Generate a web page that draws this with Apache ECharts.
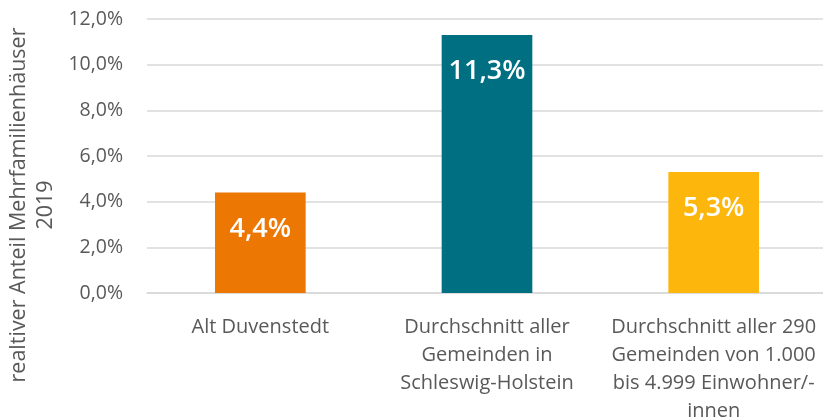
<!DOCTYPE html>
<html>
<head>
<meta charset="utf-8">
<style>html,body{margin:0;padding:0;background:#fff;}</style>
</head>
<body>
<div id="main" style="width:823px;height:418px;"></div>
<script src="https://cdn.jsdelivr.net/npm/echarts@6/dist/echarts.min.js"></script>
<script type="text/javascript">
    // Daten
    var categories = ['Alt Duvenstedt', 'Durchschnitt aller\nGemeinden in\nSchleswig-Holstein', 'Durchschnitt aller 290\nGemeinden von 1.000\nbis 4.999 Einwohner/-\ninnen'];
    var values = [4.4, 11.3, 5.3];
    var colors = ['#ED7703', '#006F82', '#FDB70C'];
    var yTicks = { min: 0, max: 12, interval: 2 };
    var yTitle = 'realtiver Anteil Mehrfamilienhäuser\n2019';

    var font = '"Open Sans", "Noto Sans", sans-serif';
    var pct = function (v) { return v.toFixed(1).replace('.', ',') + '%'; };

    var myChart = echarts.init(document.getElementById('main'));

    var option = {
        animation: false,
        grid: { left: 147, right: -4, top: 19, bottom: 125, outerBoundsMode: 'none' },
        // Achsentitel, auf die ganze Höhe zentriert wie im Original
        graphic: [{
            type: 'text',
            x: 32, y: 205,
            rotation: Math.PI / 2,
            style: {
                text: yTitle,
                fill: '#595959',
                font: '21.5px ' + font,
                lineHeight: 27,
                align: 'center',
                verticalAlign: 'middle'
            }
        }],
        xAxis: {
            type: 'category',
            data: categories,
            axisTick: { show: false },
            axisLine: { lineStyle: { color: '#d9d9d9', width: 1.5 } },
            axisLabel: {
                color: '#595959', fontSize: 20, fontFamily: font,
                lineHeight: 28, margin: 20, interval: 0, align: 'center'
            }
        },
        yAxis: {
            type: 'value',
            min: yTicks.min, max: yTicks.max, interval: yTicks.interval,
            axisLine: { show: false },
            axisTick: { show: false },
            splitLine: { lineStyle: { color: '#d9d9d9', width: 1.5 } },
            axisLabel: {
                color: '#595959', fontSize: 19.5, fontFamily: font, margin: 24,
                formatter: pct
            }
        },
        series: [{
            type: 'bar',
            barCategoryGap: '60%',
            data: values.map(function (v, i) {
                return { value: v, itemStyle: { color: colors[i] } };
            }),
            label: {
                show: true,
                position: 'insideTop',
                distance: 23,
                color: '#fff',
                fontSize: 27,
                fontWeight: 600,
                fontFamily: font,
                formatter: function (p) { return pct(p.value); }
            }
        }]
    };

    myChart.setOption(option);
</script>
</body>
</html>
